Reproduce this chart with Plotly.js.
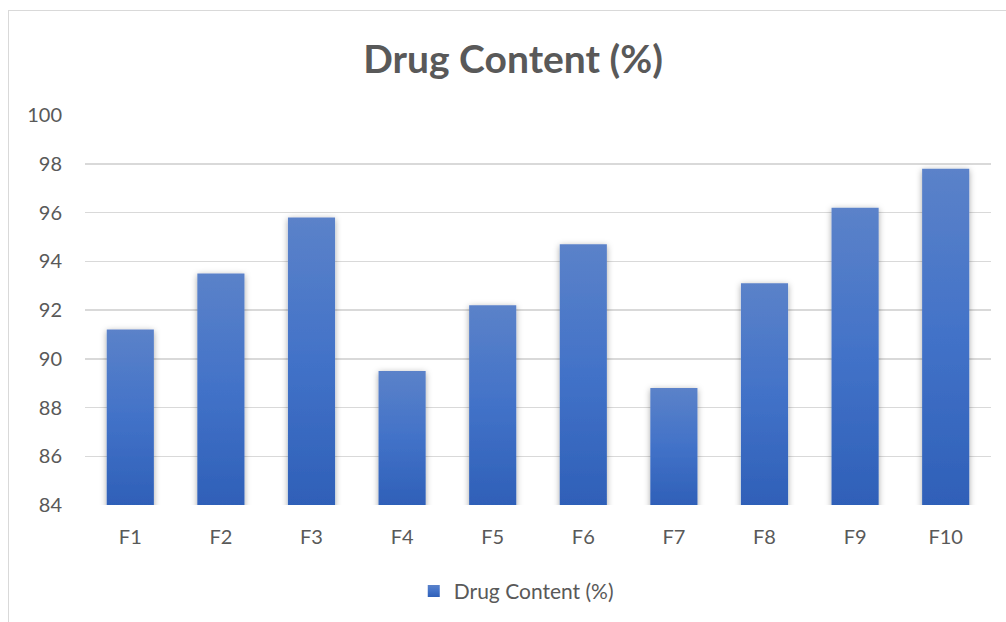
<!DOCTYPE html>
<html>
<head>
<meta charset="utf-8">
<script src="https://cdn.plot.ly/plotly-3.0.1.min.js"></script>
<style>
html,body{margin:0;padding:0;background:#fff;overflow:hidden;}
#frame{position:absolute;left:8px;top:10px;width:1100px;height:700px;border:1px solid #d9d9d9;box-sizing:border-box;}
#chart{position:absolute;left:0;top:0;width:1006px;height:622px;}
</style>
</head>
<body>
<div id="frame"></div>
<div id="chart"></div>
<script>
const categories = ["F1","F2","F3","F4","F5","F6","F7","F8","F9","F10"];
const drugContent = [91.2, 93.5, 95.8, 89.5, 92.2, 94.7, 88.8, 93.1, 96.2, 97.8];
const seriesName = "Drug Content (%)";
const yTicks = [84, 86, 88, 90, 92, 94, 96, 98, 100];

const font = "Lato, Open Sans, sans-serif";
const trace = {
  type: "bar",
  x: categories,
  y: drugContent,
  name: seriesName,
  marker: {color: "#4472c4", line: {width: 0}},
  hoverinfo: "x+y"
};
const layout = {
  width: 1006, height: 622,
  paper_bgcolor: "rgba(0,0,0,0)",
  plot_bgcolor: "rgba(0,0,0,0)",
  margin: {l: 85, r: 15, t: 115, b: 116},
  bargap: 0.48,
  title: {text: "<b>Drug Content (%)</b>", x: 0.51, xanchor: "center", y: 0.905, yanchor: "middle",
          font: {family: font, size: 39, color: "#595959"}},
  xaxis: {
    type: "category",
    tickfont: {family: font, size: 20, color: "#595959"},
    showgrid: false, showline: false, zeroline: false,
    ticks: "", ticklen: 0, ticklabelstandoff: 18
  },
  yaxis: {
    range: [84, 100],
    tickvals: yTicks,
    tickfont: {family: font, size: 20, color: "#595959"},
    showgrid: true, gridcolor: "#d9d9d9", gridwidth: 1.5,
    zeroline: false, showline: false, ticks: "", ticklabelstandoff: 22
  },
  showlegend: true,
  legend: {orientation: "h", x: 0.476, xanchor: "center", y: -0.218, yanchor: "middle",
           itemwidth: 30, font: {family: font, size: 21, color: "#595959"}},
};
Plotly.newPlot("chart", [trace], layout, {displayModeBar: false, staticPlot: true}).then(gd => {
  const svg = gd.querySelector("svg.main-svg");
  const ns = "http://www.w3.org/2000/svg";
  const defs = svg.querySelector("defs");
  const plotH = gd._fullLayout.yaxis._length;
  const stops = [["0", "#5b82c9"], ["0.5", "#4272c8"], ["1", "#2f60b8"]];
  function makeGrad(id, y1, y2, units) {
    const grad = document.createElementNS(ns, "linearGradient");
    grad.setAttribute("id", id);
    grad.setAttribute("gradientUnits", units);
    grad.setAttribute("x1", "0"); grad.setAttribute("y1", y1);
    grad.setAttribute("x2", "0"); grad.setAttribute("y2", y2);
    stops.forEach(([o, c]) => {
      const s = document.createElementNS(ns, "stop");
      s.setAttribute("offset", o); s.setAttribute("stop-color", c);
      grad.appendChild(s);
    });
    defs.appendChild(grad);
  }
  const filt = document.createElementNS(ns, "filter");
  filt.setAttribute("id", "barShadow");
  filt.setAttribute("x", "-30%"); filt.setAttribute("y", "-10%");
  filt.setAttribute("width", "160%"); filt.setAttribute("height", "120%");
  const ds = document.createElementNS(ns, "feDropShadow");
  ds.setAttribute("dx", "0"); ds.setAttribute("dy", "1.5");
  ds.setAttribute("stdDeviation", "3"); ds.setAttribute("flood-color", "#000");
  ds.setAttribute("flood-opacity", "0.35");
  filt.appendChild(ds);
  defs.appendChild(filt);
  gd.querySelectorAll(".barlayer .point path").forEach((p, i) => {
    const top = p.getBBox().y;
    makeGrad("barGrad" + i, String(top), String(plotH), "userSpaceOnUse");
    p.style.fill = "url(#barGrad" + i + ")";
    p.setAttribute("filter", "url(#barShadow)");
  });
  makeGrad("legGrad", "0", "1", "objectBoundingBox");
  gd.querySelectorAll(".legend .legendpoints path").forEach(p => {
    p.style.fill = "url(#legGrad)";
  });
});
</script>
</body>
</html>
